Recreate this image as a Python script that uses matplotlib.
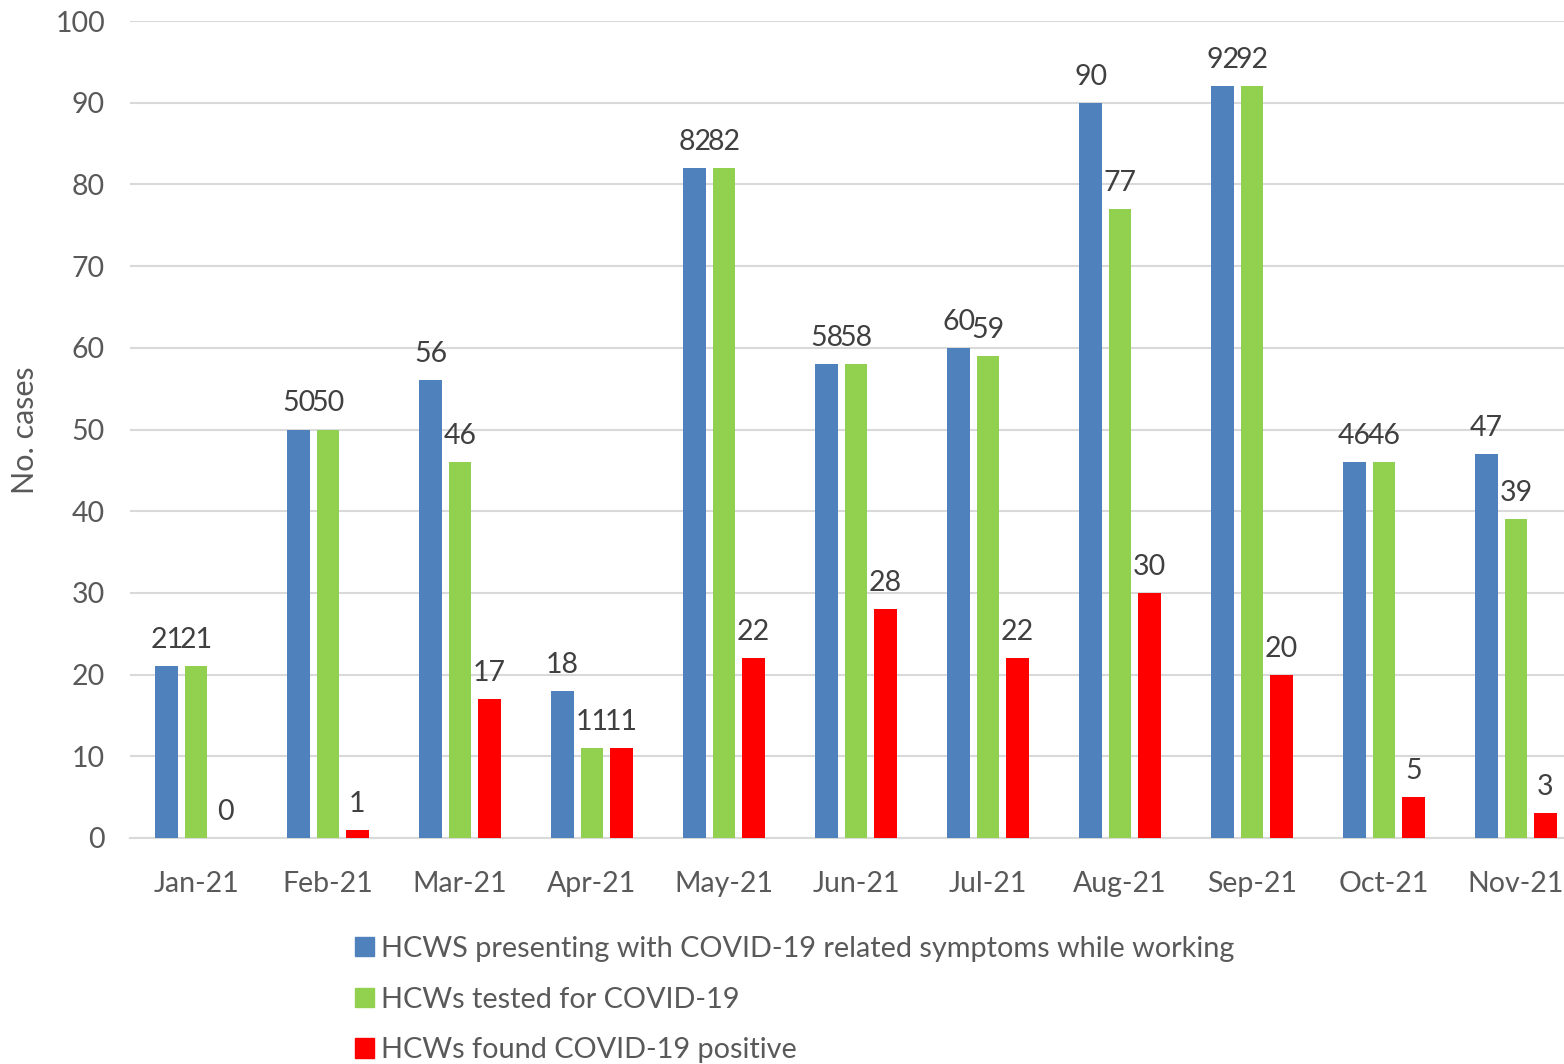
import numpy as np
import matplotlib.pyplot as plt
from matplotlib.patches import Patch

months = ["Jan-21", "Feb-21", "Mar-21", "Apr-21", "May-21", "Jun-21",
          "Jul-21", "Aug-21", "Sep-21", "Oct-21", "Nov-21"]
presenting = [21, 50, 56, 18, 82, 58, 60, 90, 92, 46, 47]
tested = [21, 50, 46, 11, 82, 58, 59, 77, 92, 46, 39]
positive = [0, 1, 17, 11, 22, 28, 22, 30, 20, 5, 3]

series_names = ["HCWS presenting with COVID-19 related symptoms while working",
                "HCWs tested for COVID-19",
                "HCWs found COVID-19 positive"]
colors = ["#4F81BD", "#92D050", "#FF0000"]

plt.rcParams['font.family'] = ['Lato', 'DejaVu Sans']

fig = plt.figure(figsize=(15.64, 10.64), dpi=100)
ax = fig.add_axes([130 / 1564, 226 / 1064, 1452 / 1564, 817 / 1064])

x = np.arange(len(months))
step = 0.222
width = 0.172
for i, (vals, col) in enumerate(zip([presenting, tested, positive], colors)):
    pos = x + (i - 1) * step
    ax.bar(pos, vals, width, color=col, zorder=3)
    for p, v in zip(pos, vals):
        ax.text(p, v + 1.6, str(v), ha="center", va="bottom",
                fontsize=20.5, color="#404040")

ax.set_xlim(-0.5, len(months) - 0.5)
ax.set_ylim(0, 100)
ax.set_yticks(range(0, 101, 10))
ax.set_xticks(x)
ax.set_xticklabels(months)
ax.tick_params(axis="both", length=0, labelsize=20.5, labelcolor="#595959")
ax.tick_params(axis="x", pad=24)
ax.tick_params(axis="y", pad=18)
ax.grid(axis="y", color="#D9D9D9", linewidth=1.5, zorder=0)
for s in ["top", "right", "left"]:
    ax.spines[s].set_visible(False)
ax.spines["bottom"].set_color("#D9D9D9")
ax.spines["bottom"].set_linewidth(1.5)

fig.text(25 / 1564, 1 - 430 / 1064, "No. cases", rotation=90, ha="center",
         va="center", fontsize=22, color="#595959")

handles = [Patch(color=c) for c in colors]
fig.legend(handles, series_names, loc="upper left",
           bbox_to_anchor=(329 / 1564, 1 - 910 / 1064), frameon=False,
           fontsize=20.8, labelcolor="#595959", handlelength=0.65,
           handleheight=0.65, handletextpad=0.25, labelspacing=0.85)

fig.savefig("out.png", dpi=100)
